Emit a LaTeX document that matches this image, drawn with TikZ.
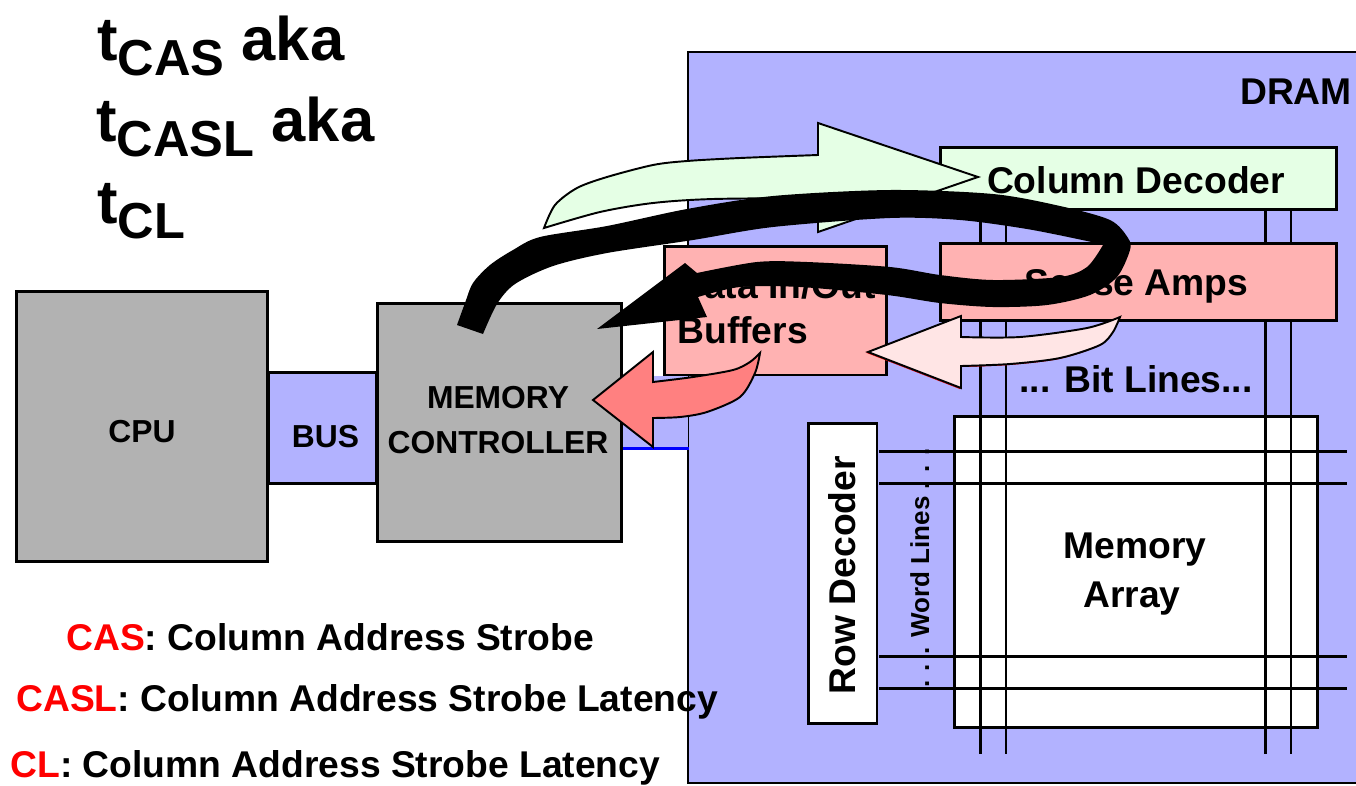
\documentclass[tikz,border=0pt]{standalone}
\usepackage{fontspec}
\setmainfont{Liberation Sans}
\usepackage{tikz}
\usetikzlibrary{calc}
\definecolor{cpuc}{RGB}{178,178,178}
\definecolor{dramc}{RGB}{178,178,255}
\definecolor{greenc}{RGB}{229,255,229}
\definecolor{ampc}{RGB}{255,178,178}
\definecolor{paler}{RGB}{255,229,229}
\definecolor{hotc}{RGB}{255,128,128}
\tikzset{
  box/.style={rectangle,draw=black,line width=1.7pt,inner sep=0pt},
  wire/.style={line width=1.6pt,black},
  lbl/.style={inner sep=0pt,anchor=base,font=\bfseries\fontsize{21.2pt}{24pt}\selectfont},
  lblw/.style={lbl,anchor=base west},
  small/.style={lbl,font=\bfseries\fontsize{18.1pt}{22pt}\selectfont},
  block/.style={draw=black,line width=1.1pt,line join=miter},
  ttl/.style={inner sep=0pt,anchor=base west,font=\bfseries\fontsize{35pt}{38pt}\selectfont},
}
\newcommand{\tlat}[1]{t\raisebox{-9.1pt}{\fontsize{28.8pt}{30pt}\selectfont #1}}
\begin{document}
\begin{tikzpicture}[x=0.02cm,y=-0.02cm]
  \useasboundingbox (0,0) rectangle (1356,785);
  % dram panel and bus
  \node[box,line width=1.2pt,fill=dramc,minimum width=13.40cm,minimum height=14.62cm] (dram) at (1023,417.5){};
  \node[lbl] (dramt) at (1296,104.5){DRAM};
  \node[box,draw=none,fill=dramc,minimum width=1.32cm,minimum height=1.42cm] (link) at (655,411.5){};
  \draw[blue,line width=1.5pt] (link.south west)--(link.south east);
  \node[box,fill=dramc,minimum width=2.16cm,minimum height=2.22cm] (bus) at (322,428){};
  \node[small] (bust) at (325.5,447){BUS};
  % cpu and controller
  \node[box,fill=cpuc,minimum width=5.03cm,minimum height=5.40cm] (cpu) at (142.25,426.5){};
  \node[small] (cput) at (142,442.5){CPU};
  \node[box,fill=cpuc,minimum width=4.90cm,minimum height=4.76cm] (mc) at (499.5,422.5){};
  \node[small] (mct1) at (498,408){MEMORY};
  \node[small] (mct2) at (498,453.5){CONTROLLER};
  % memory array and lines
  \node[box,fill=white,minimum width=7.26cm,minimum height=6.23cm] (arr) at (1136,572){};
  \node[lbl] (arrt1) at (1135,558.5){Memory};
  \node[lbl] (arrt2) at (1132,607){Array};
  \node[lbl,anchor=base,rotate=90,font=\bfseries\fontsize{14.8pt}{16pt}\selectfont] (wlt) at (929,568){. . . Word Lines . . .};
  \foreach \x in {980.7,1006,1265.7,1291}{
    \draw[wire] (\x,209)--(\x,754);}
  \foreach \y in {451.7,483.3,656.7,688.3}{
    \draw[wire] (879,\y)--(1347,\y);}
  \node[lbl] (blt) at (1136,392){... Bit Lines...};
  % decoders and amps
  \node[box,fill=white,minimum width=1.38cm,minimum height=6.00cm] (rowd) at (842.5,573.3){};
  \node[lbl,rotate=90] (rowt) at (855,575){Row Decoder};
  \node[box,fill=greenc,minimum width=7.94cm,minimum height=1.23cm] (cold) at (1138.5,178.5){};
  \node[box,fill=ampc,minimum width=7.94cm,minimum height=1.55cm] (amps) at (1138.5,282){};
  \node[lbl] (ampt) at (1136.5,295.5){Sense Amps};
  \node[box,fill=ampc,minimum width=4.46cm,minimum height=2.58cm] (buf) at (775.5,310.5){};
  \node[lblw] (buft1) at (677,298){Data In/Out};
  \node[lblw] (buft2) at (677,343.5){Buffers};
  % command arrow
  \draw[block,fill=greenc] plot[smooth] coordinates {(544,228) (555,205) (577,188) (607,177) (653,165) (687,161) (740,158) (818,155)}
    -- (818,123) -- (978,177) -- (818,232) -- (818,198)
    -- plot[smooth] coordinates {(818,198) (713,199) (653,203) (600,212) (544,228)} -- cycle;
  \node[lbl] (colt) at (1136,193.5){Column Decoder};
  % data arrows
  \draw[block,fill=paler,preaction={draw=red,transform canvas={xshift=-0.6pt,yshift=-0.4pt}}] (868,352) -- (961,316) -- (961,337)
    -- plot[smooth] coordinates {(961,337) (1020,337) (1087,328) (1120,317)}
    -- plot[smooth] coordinates {(1120,317) (1113,332) (1100,345) (1060,358) (1010,364) (961,366)}
    -- (961,388) -- cycle;
  \draw[block,fill=hotc] (593,400) -- (653,352) -- (653,382)
    -- plot[smooth] coordinates {(653,382) (693,377) (733,370) (750,362) (760,353)}
    -- plot[smooth] coordinates {(760,353) (755,373) (740,397) (707,412) (680,417) (653,418)}
    -- (653,447) -- cycle;
  % latency band
  \fill[black] (457,325)
    -- plot[smooth] coordinates {(457,325) (465,303) (473,283) (490,265) (513,250) (540,237) (607,226) (687,209) (773,196) (890,190) (993,194) (1060,206) (1110,220) (1128,238) (1130,250) (1117,277) (1090,295) (1047,305) (993,307) (940,303) (887,295) (800,287) (740,287) (698,297)}
    -- (707,317) -- (597,329) -- (685,263) -- (697,273)
    -- plot[smooth] coordinates {(697,273) (757,262) (807,262) (890,267) (940,275) (993,280) (1060,277) (1087,267) (1103,245)}
    -- plot[smooth] coordinates {(1103,245) (1087,241) (1027,229) (960,220) (890,218) (773,227) (693,240) (607,253) (553,266) (515,284) (497,304) (483,334)}
    -- cycle;
  % title
  \node[ttl] (t1) at (97,60){\tlat{CAS} aka};
  \node[ttl] (t2) at (96,141){\tlat{CASL} aka};
  \node[ttl] (t3) at (97,223){\tlat{CL}};
  % legend
  \node[lblw] (l1) at (66,650){\textcolor{red}{CAS}: Column Address Strobe};
  \node[lblw] (l2) at (16,711){\textcolor{red}{CASL}: Column Address Strobe Latency};
  \node[lblw] (l3) at (10,777){\textcolor{red}{CL}: Column Address Strobe Latency};
\end{tikzpicture}
\end{document}
